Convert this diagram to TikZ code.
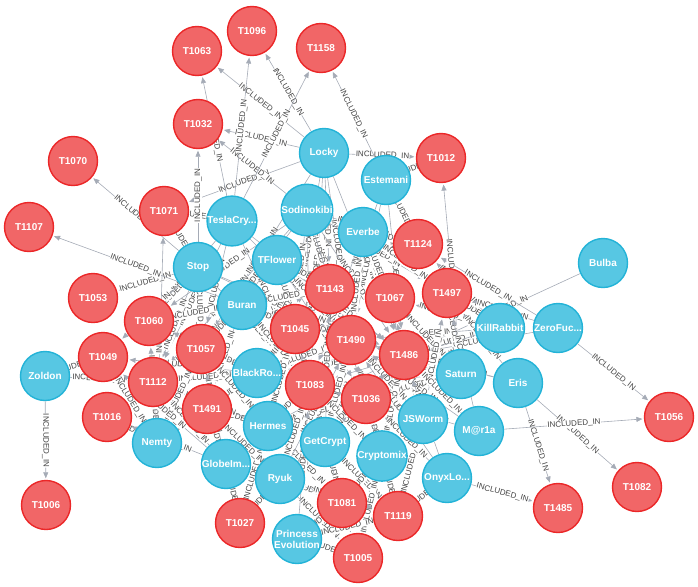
\documentclass[tikz,border=0pt]{standalone}
\usepackage{fontspec}
\setmainfont{Liberation Sans}
\usepackage{tikz}
\usetikzlibrary{arrows.meta}
\usetikzlibrary{backgrounds}

\definecolor{techfill}{HTML}{F16667}
\definecolor{techline}{HTML}{EB2728}
\definecolor{famfill}{HTML}{57C7E3}
\definecolor{famline}{HTML}{23B3D7}
\definecolor{relgray}{HTML}{A5ABB6}
\definecolor{lblgray}{HTML}{444444}

\begin{document}
\begin{tikzpicture}[x=1pt, y=-1pt,
  tech/.style={circle, draw=techline, fill=techfill, line width=1.4pt, minimum size=49pt, inner sep=0pt, text=white, font=\bfseries\fontsize{10}{11}\selectfont},
  fam/.style={circle, draw=famline, fill=famfill, line width=1.4pt, minimum size=49pt, inner sep=0pt, text=white, align=center, font=\bfseries\fontsize{10}{11}\selectfont},
  rel/.style={draw=relgray, line width=0.6pt, -{Triangle[length=6pt,width=5pt]}, shorten >=1.5pt},
  lbl/.style={midway, sloped, fill=white, inner sep=0.4pt, text=lblgray, font=\fontsize{8}{9}\selectfont}]
\useasboundingbox (0,0) rectangle (698,586);

% techniques
\node[tech] (T1063) at (197,51) {T1063};
\node[tech] (T1096) at (252,31) {T1096};
\node[tech] (T1158) at (321,48) {T1158};
\node[tech] (T1032) at (198,124) {T1032};
\node[tech] (T1070) at (73,161) {T1070};
\node[tech] (T1012) at (441,158) {T1012};
\node[tech] (T1107) at (29,227) {T1107};
\node[tech] (T1071) at (164,211) {T1071};
\node[tech] (T1124) at (418,244) {T1124};
\node[tech] (T1053) at (93,298) {T1053};
\node[tech] (T1060) at (149,321) {T1060};
\node[tech] (T1143) at (330,289) {T1143};
\node[tech] (T1067) at (390,298) {T1067};
\node[tech] (T1497) at (447,293) {T1497};
\node[tech] (T1045) at (295,329) {T1045};
\node[tech] (T1490) at (351,340) {T1490};
\node[tech] (T1486) at (404,355) {T1486};
\node[tech] (T1049) at (103,357) {T1049};
\node[tech] (T1057) at (201,349) {T1057};
\node[tech] (T1112) at (153,382) {T1112};
\node[tech] (T1083) at (310,385) {T1083};
\node[tech] (T1036) at (366,399) {T1036};
\node[tech] (T1491) at (207,409) {T1491};
\node[tech] (T1016) at (107,417) {T1016};
\node[tech] (T1056) at (669,417) {T1056};
\node[tech] (T1006) at (46,505) {T1006};
\node[tech] (T1081) at (342,503) {T1081};
\node[tech] (T1119) at (398,516) {T1119};
\node[tech] (T1027) at (240,523) {T1027};
\node[tech] (T1485) at (558,508) {T1485};
\node[tech] (T1082) at (637,487) {T1082};
\node[tech] (T1005) at (358,558) {T1005};

% ransomware families
\node[fam] (locky) at (324,153) {Locky};
\node[fam] (estemani) at (386,180) {Estemani};
\node[fam] (sodinokibi) at (307,210) {Sodinokibi};
\node[fam] (teslacrypt) at (232,221) {TeslaCry...};
\node[fam] (everbe) at (363,232) {Everbe};
\node[fam] (tflower) at (277,260) {TFlower};
\node[fam] (stop) at (198,267) {Stop};
\node[fam] (bulba) at (603,263) {Bulba};
\node[fam] (buran) at (242,305) {Buran};
\node[fam] (killrabbit) at (500,328) {KillRabbit};
\node[fam] (zerofucks) at (558,328) {ZeroFuc...};
\node[fam] (zoldon) at (45,376) {Zoldon};
\node[fam] (blackrouter) at (257,373) {BlackRo...};
\node[fam] (saturn) at (461,374) {Saturn};
\node[fam] (eris) at (518,383) {Eris};
\node[fam] (hermes) at (268,426) {Hermes};
\node[fam] (getcrypt) at (325,442) {GetCrypt};
\node[fam] (jsworm) at (423,419) {JSWorm};
\node[fam] (maria) at (479,431) {M@r1a};
\node[fam] (nemty) at (157,443) {Nemty};
\node[fam] (cryptomix) at (382,456) {Cryptomix};
\node[fam] (globeimposter) at (226,464) {GlobeIm...};
\node[fam] (ryuk) at (280,479) {Ryuk};
\node[fam] (onyxlocker) at (447,478) {OnyxLo...};
\node[fam] (princess) at (297,539) {Princess\\Evolution};

\begin{scope}[on background layer]
\foreach \t in {T1063,T1096,T1012,T1032,T1071,T1486,T1490,T1083,T1143,T1045,T1057}
  \draw[rel] (locky) -- (\t) node[lbl] {INCLUDED\_IN};
\foreach \t in {T1158,T1012,T1486,T1490,T1124,T1083}
  \draw[rel] (estemani) -- (\t) node[lbl] {INCLUDED\_IN};
\foreach \t in {T1032,T1486,T1490,T1083,T1143,T1045,T1112,T1060,T1057,T1124,T1497,T1036}
  \draw[rel] (sodinokibi) -- (\t) node[lbl] {INCLUDED\_IN};
\foreach \t in {T1063,T1096,T1158,T1071,T1486,T1490,T1083,T1060,T1112,T1057}
  \draw[rel] (teslacrypt) -- (\t) node[lbl] {INCLUDED\_IN};
\foreach \t in {T1124,T1486,T1490,T1067,T1083,T1497}
  \draw[rel] (everbe) -- (\t) node[lbl] {INCLUDED\_IN};
\foreach \t in {T1486,T1490,T1083,T1143,T1045,T1057,T1036}
  \draw[rel] (tflower) -- (\t) node[lbl] {INCLUDED\_IN};
\foreach \t in {T1070,T1053,T1032,T1071,T1060,T1049,T1112,T1486,T1490,T1083,T1057}
  \draw[rel] (stop) -- (\t) node[lbl] {INCLUDED\_IN};
\draw[rel] (bulba) -- (T1486) node[lbl] {INCLUDED\_IN};
\foreach \t in {T1107,T1060,T1112,T1057,T1486,T1490,T1083,T1045,T1143,T1491}
  \draw[rel] (buran) -- (\t) node[lbl] {INCLUDED\_IN};
\foreach \t in {T1497,T1124,T1067,T1486,T1490,T1036,T1083}
  \draw[rel] (killrabbit) -- (\t) node[lbl] {INCLUDED\_IN};
\foreach \t in {T1056,T1497,T1124,T1486}
  \draw[rel] (zerofucks) -- (\t) node[lbl] {INCLUDED\_IN};
\foreach \t in {T1006,T1049,T1112}
  \draw[rel] (zoldon) -- (\t) node[lbl] {INCLUDED\_IN};
\foreach \t in {T1057,T1112,T1491,T1049,T1060,T1486,T1490,T1083,T1045,T1036,T1143}
  \draw[rel] (blackrouter) -- (\t) node[lbl] {INCLUDED\_IN};
\foreach \t in {T1012,T1497,T1486,T1490,T1067,T1036,T1083}
  \draw[rel] (saturn) -- (\t) node[lbl] {INCLUDED\_IN};
\foreach \t in {T1485,T1082,T1486,T1497,T1490}
  \draw[rel] (eris) -- (\t) node[lbl] {INCLUDED\_IN};
\foreach \t in {T1491,T1057,T1112,T1486,T1490,T1083,T1036,T1045,T1027,T1081}
  \draw[rel] (hermes) -- (\t) node[lbl] {INCLUDED\_IN};
\foreach \t in {T1486,T1490,T1083,T1036,T1045,T1143,T1081,T1119,T1005}
  \draw[rel] (getcrypt) -- (\t) node[lbl] {INCLUDED\_IN};
\foreach \t in {T1486,T1490,T1036,T1083,T1497,T1067,T1119}
  \draw[rel] (jsworm) -- (\t) node[lbl] {INCLUDED\_IN};
\foreach \t in {T1056,T1486,T1490,T1497,T1036}
  \draw[rel] (maria) -- (\t) node[lbl] {INCLUDED\_IN};
\foreach \t in {T1016,T1049,T1112,T1060,T1071,T1057,T1491}
  \draw[rel] (nemty) -- (\t) node[lbl] {INCLUDED\_IN};
\foreach \t in {T1119,T1081,T1005,T1036,T1083,T1486,T1490}
  \draw[rel] (cryptomix) -- (\t) node[lbl] {INCLUDED\_IN};
\foreach \t in {T1027,T1016,T1491,T1112,T1057,T1049}
  \draw[rel] (globeimposter) -- (\t) node[lbl] {INCLUDED\_IN};
\foreach \t in {T1027,T1081,T1119,T1005,T1083,T1486,T1490,T1036,T1491}
  \draw[rel] (ryuk) -- (\t) node[lbl] {INCLUDED\_IN};
\foreach \t in {T1485,T1119,T1486,T1036,T1490}
  \draw[rel] (onyxlocker) -- (\t) node[lbl] {INCLUDED\_IN};
\foreach \t in {T1005,T1081,T1119,T1083}
  \draw[rel] (princess) -- (\t) node[lbl] {INCLUDED\_IN};
\end{scope}
\end{tikzpicture}
\end{document}
